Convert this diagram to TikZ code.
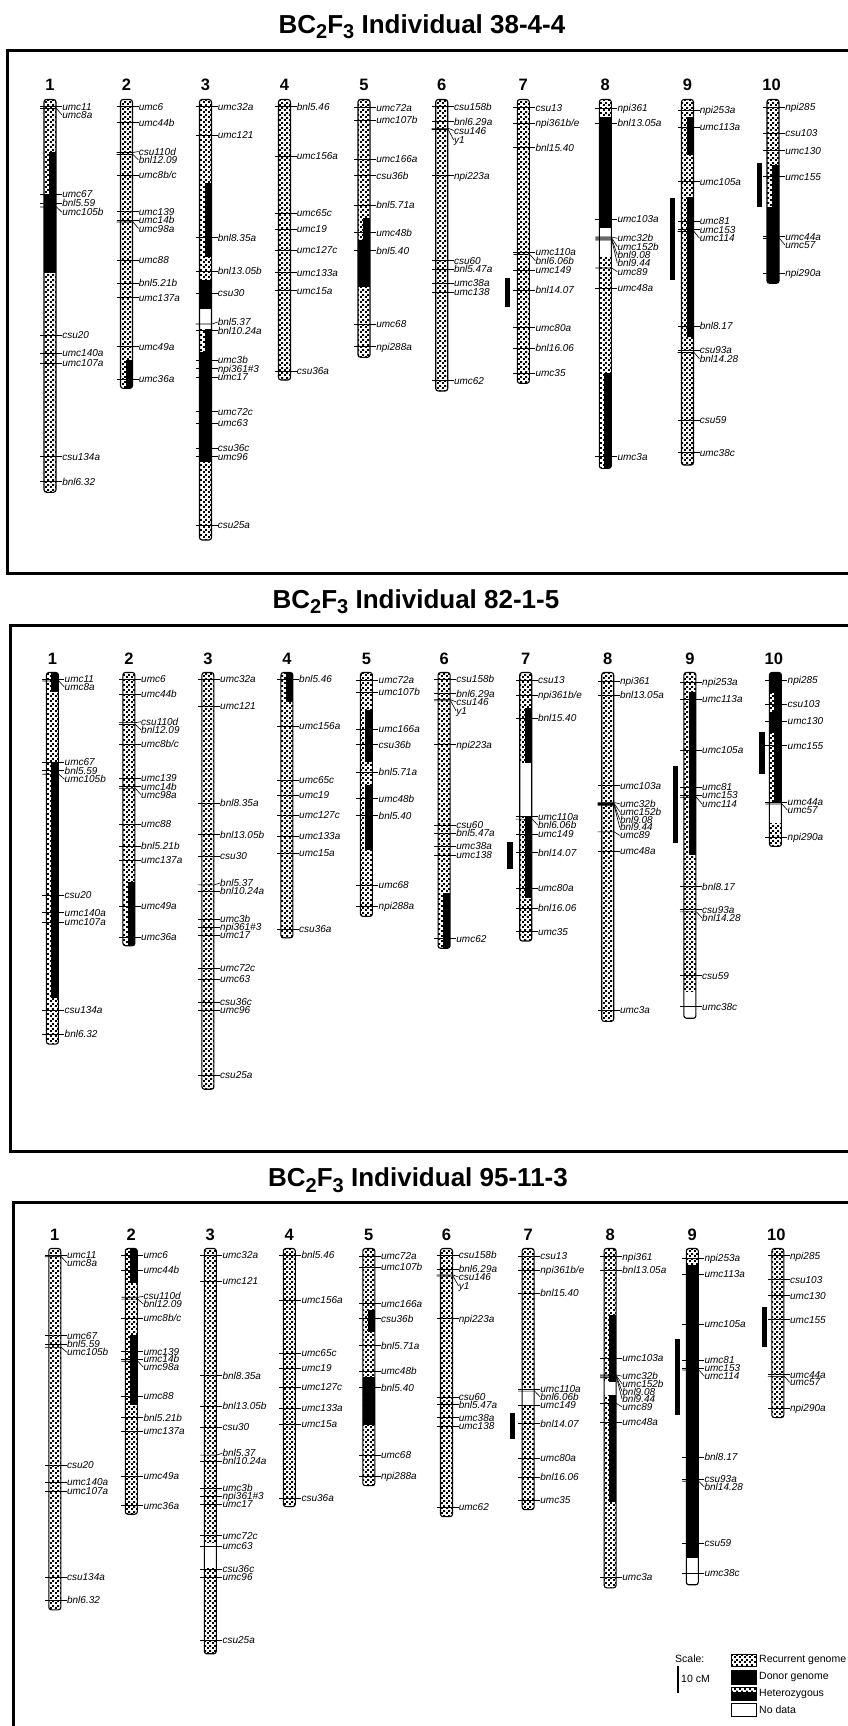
\documentclass[tikz,border=0pt]{standalone}
\usepackage{fontspec}
\setmainfont{Liberation Sans}
\usetikzlibrary{patterns}

\pgfdeclarepatternformonly{recur}{\pgfpointorigin}{\pgfqpoint{4.5bp}{4.5bp}}{\pgfqpoint{4.5bp}{4.5bp}}{%
  \pgfpathrectangle{\pgfqpoint{0.1bp}{0.1bp}}{\pgfqpoint{1.9bp}{1.9bp}}%
  \pgfpathrectangle{\pgfqpoint{2.35bp}{2.35bp}}{\pgfqpoint{1.9bp}{1.9bp}}%
  \pgfusepath{fill}}

\tikzset{
  chromline/.style={line width=1.1bp},
  tickline/.style={line width=0.6bp},
  lbl/.style={anchor=west, inner sep=0pt, text height=7bp, text depth=0bp,
              font=\fontsize{10bp}{10bp}\selectfont\itshape},
  chrnum/.style={inner sep=0pt, font=\fontsize{16.5bp}{16.5bp}\selectfont\bfseries},
  ttl/.style={anchor=base, inner sep=0pt, font=\fontsize{26bp}{26bp}\selectfont\bfseries},
  panelframe/.style={line width=3bp},
  lg/.style={anchor=west, inner sep=0pt, font=\fontsize{10.5bp}{10.5bp}\selectfont},
}

\newcommand\PX[1]{(\Pdx+(#1))}
\newcommand\PY[1]{(\Ptop+\Ps*((#1)-99.5))}
\newcommand\tsub[1]{\raisebox{-5.5bp}{\fontsize{20bp}{20bp}\selectfont #1}}

% chromosome: centre x, bottom y, segments
\newcommand\chromo[3]{%
  \def\cx{#1}%
  \begin{scope}
    \clip[rounded corners=2.5bp] ({\PX{#1-6}},{\PY{99.5}}) rectangle ({\PX{#1+6}},{\PY{#2}});
    \fill[white] ({\PX{#1-6}},{\PY{99.5}}) rectangle ({\PX{#1+6}},{\PY{#2}});
    \fill[pattern=recur] ({\PX{#1-6}},{\PY{99.5}}) rectangle ({\PX{#1+6}},{\PY{#2}});
    #3
  \end{scope}
  \draw[chromline, rounded corners=2.5bp] ({\PX{#1-6}},{\PY{99.5}}) rectangle ({\PX{#1+6}},{\PY{#2}});
}
\newcommand\segD[2]{\fill[black] ({\PX{\cx-7}},{\PY{#1}}) rectangle ({\PX{\cx+7}},{\PY{#2}});}
\newcommand\segH[2]{\fill[black] ({\PX{\cx-1}},{\PY{#1}}) rectangle ({\PX{\cx+7}},{\PY{#2}});}
\newcommand\segN[2]{\fill[white] ({\PX{\cx-7}},{\PY{#1}}) rectangle ({\PX{\cx+7}},{\PY{#2}});}
\newcommand\mk[2]{\draw[tickline] ({\PX{\cx-10}},{\PY{#1}}) -- ({\PX{\cx+12}},{\PY{#1}}) node[lbl]{#2};}
\newcommand\mks[3]{\draw[tickline] ({\PX{\cx-10}},{\PY{#1}}) -- ({\PX{\cx+6.5}},{\PY{#1}}) -- ({\PX{\cx+12}},{\PY{#2}}) node[lbl]{#3};}
\newcommand\qbar[3]{\fill[black] ({\PX{#1-2.6}},{\PY{#2}}) rectangle ({\PX{#1+2.6}},{\PY{#3}});}
\newcommand\cnum[2]{\node[chrnum] at ({\PX{#1}},{\PY{85}}) {#2};}

\newcommand\drawpanel{%
  % chromosome 1
  \chromo{50}{492.3}{\SegA}
  \cnum{50}{1}
  \mk{106.5}{umc11} \mks{108.5}{115}{umc8a} \mk{194.3}{umc67} \mk{203.3}{bnl5.59}
  \mks{207}{212.3}{umc105b} \mk{335}{csu20} \mk{353.3}{umc140a} \mk{363.3}{umc107a}
  \mk{456.7}{csu134a} \mk{481.7}{bnl6.32}
  % chromosome 2
  \chromo{126.5}{388.3}{\SegB}
  \cnum{126.5}{2}
  \mk{106.7}{umc6} \mk{122.7}{umc44b} \mks{152.5}{151.5}{csu110d} \mks{154.5}{160}{bnl12.09}
  \mk{175}{umc8b/c} \mk{211.5}{umc139} \mk{220}{umc14b} \mks{222}{228.5}{umc98a}
  \mk{260}{umc88} \mk{283.3}{bnl5.21b} \mk{297.7}{umc137a} \mk{346.7}{umc49a} \mk{379}{umc36a}
  % chromosome 3
  \chromo{205.5}{540}{\SegC}
  \cnum{205.5}{3}
  \mk{106.7}{umc32a} \mk{135}{umc121} \mk{237.7}{bnl8.35a} \mk{271}{bnl13.05b}
  \mk{293.3}{csu30} \mks{324}{322}{bnl5.37} \mk{330.5}{bnl10.24a} \mk{360}{umc3b}
  \mk{368.5}{npi361\#3} \mk{377}{umc17} \mk{411.7}{umc72c} \mk{423.3}{umc63}
  \mk{448.3}{csu36c} \mk{456.7}{umc96} \mk{525}{csu25a}
  % chromosome 4
  \chromo{284.5}{380}{\SegD}
  \cnum{284.5}{4}
  \mk{106.7}{bnl5.46} \mk{156}{umc156a} \mk{213.3}{umc65c} \mk{229.3}{umc19}
  \mk{250}{umc127c} \mk{272.7}{umc133a} \mk{290.7}{umc15a} \mk{371}{csu36a}
  % chromosome 5
  \chromo{364}{357.3}{\SegE}
  \cnum{364}{5}
  \mk{107.7}{umc72a} \mk{120}{umc107b} \mk{159.3}{umc166a} \mk{175.7}{csu36b}
  \mk{205}{bnl5.71a} \mk{232.7}{umc48b} \mk{250.7}{bnl5.40} \mk{324}{umc68} \mk{346.7}{npi288a}
  % chromosome 6
  \chromo{441.7}{391}{\SegF}
  \cnum{441.7}{6}
  \mk{106.7}{csu158b} \mk{121.7}{bnl6.29a} \mks{128.3}{130.5}{csu146} \mks{129.5}{140}{y1}
  \mk{175.7}{npi223a} \mk{260.7}{csu60} \mk{269.3}{bnl5.47a} \mk{283.3}{umc38a}
  \mk{292.3}{umc138} \mk{380.7}{umc62}
  % chromosome 7
  \chromo{523.3}{383.3}{\SegG}
  \cnum{523.3}{7}
  \mk{107.7}{csu13} \mk{123.3}{npi361b/e} \mk{147.7}{bnl15.40} \mk{252}{umc110a}
  \mks{254.5}{260.7}{bnl6.06b} \mk{270}{umc149} \mk{290}{bnl14.07} \mk{327.7}{umc80a}
  \mk{348.3}{bnl16.06} \mk{373.3}{umc35}
  \qbar{507.5}{278.3}{306.7}
  % chromosome 8
  \chromo{605.3}{468.3}{\SegH}
  \cnum{605.3}{8}
  \mk{108.3}{npi361} \mk{123.3}{bnl13.05a} \mk{219}{umc103a} \mks{237}{238.3}{umc32b}
  \mks{238}{246.7}{umc152b} \mks{239}{255}{bnl9.08} \mks{240}{263.3}{bnl9.44}
  \mks{268}{271.7}{umc89} \mk{288.3}{umc48a} \mk{456.7}{umc3a}
  % chromosome 9
  \chromo{687.5}{465}{\SegI}
  \cnum{687.5}{9}
  \mk{110}{npi253a} \mk{127.3}{umc113a} \mk{181.7}{umc105a} \mk{221}{umc81}
  \mk{229.5}{umc153} \mks{231.5}{238.3}{umc114} \mk{326}{bnl8.17} \mk{350.2}{csu93a}
  \mks{352.5}{358.8}{bnl14.28} \mk{420}{csu59} \mk{452.7}{umc38c}
  \qbar{672.8}{198.3}{280}
  % chromosome 10
  \chromo{773}{283.3}{\SegJ}
  \cnum{771.5}{10}
  \mk{107.3}{npi285} \mk{133.3}{csu103} \mk{150.7}{umc130} \mk{176.7}{umc155}
  \mk{236.7}{umc44a} \mks{238.5}{245}{umc57} \mk{273.3}{npi290a}
  \qbar{759.5}{162.7}{206.7}
}

\begin{document}
\begin{tikzpicture}[x=1bp, y=-1bp]
\useasboundingbox (0,0) rectangle (848,1726);
\clip (0,0) rectangle (848,1726);
\fill[white] (0,0) rectangle (848,1726);

% ---------- titles and frames ----------
\node[ttl] (t1) at (422,33) {BC\tsub{2}F\tsub{3} Individual 38-4-4};
\node[ttl] (t2) at (416,608.3) {BC\tsub{2}F\tsub{3} Individual 82-1-5};
\node[ttl] (t3) at (418,1186.7) {BC\tsub{2}F\tsub{3} Individual 95-11-3};
\draw[panelframe] (7.3,50) rectangle (900,573);
\draw[panelframe] (10,625) rectangle (900,1151);
\draw[panelframe] (13.3,1202.7) rectangle (900,1800);

% ---------- panel 1 : 38-4-4 ----------
\begin{scope}
\def\Pdx{0}\def\Ptop{99.5}\def\Ps{1}
\def\SegA{\segH{151.7}{195}\segD{195}{273.3}}
\def\SegB{\segH{360}{388.3}}
\def\SegC{\segH{183.3}{256.7}\segD{280}{309.3}\segN{309.3}{329.3}\segH{329.3}{351.7}\segD{351.7}{461.7}}
\def\SegD{}
\def\SegE{\segH{218.3}{240}\segD{240}{286.7}}
\def\SegF{}
\def\SegG{}
\def\SegH{\segD{116.7}{228.3}\segN{228.3}{256.7}\segH{373.3}{468.3}}
\def\SegI{\segH{116.7}{155}\segH{196.7}{336.7}}
\def\SegJ{\segH{165}{206.7}\segD{206.7}{283.3}}
\drawpanel
\end{scope}

% ---------- panel 2 : 82-1-5 ----------
\begin{scope}
\def\Pdx{2.4}\def\Ptop{672.5}\def\Ps{0.946}
\def\SegA{\segH{99.5}{119.8}\segH{193.8}{443.9}}
\def\SegB{\segH{320.6}{388.3}}
\def\SegC{}
\def\SegD{\segH{99.5}{130.3}}
\def\SegE{\segH{139.1}{193.8}\segH{218.4}{287.1}}
\def\SegF{\segH{332.9}{391}}
\def\SegG{\segH{137.4}{195.5}\segN{195.5}{252.6}\segH{252.6}{338.2}}
\def\SegH{}
\def\SegI{\segH{119.8}{292.4}\segN{436.9}{465}}
\def\SegJ{\segD{99.5}{121.5}\segH{121.5}{140.9}\segD{140.9}{163.8}\segH{163.8}{236.1}\segN{236.1}{258.9}}
\drawpanel
\end{scope}

% ---------- panel 3 : 95-11-3 ----------
\begin{scope}
\def\Pdx{4.8}\def\Ptop{1248.5}\def\Ps{0.92}
\def\SegA{}
\def\SegB{\segH{99.5}{137.4}\segH{193.6}{269.7}}
\def\SegC{\segN{420}{447.1}}
\def\SegD{}
\def\SegE{\segH{166.4}{189.9}\segD{238.8}{291.4}}
\def\SegF{}
\def\SegG{\segN{251.5}{269.6}}
\def\SegH{\segH{171.8}{244.2}\segN{244.2}{258.7}\segH{258.7}{374.6}}
\def\SegI{\segD{117.4}{436.3}\segN{436.3}{465}}
\def\SegJ{}
\drawpanel
\end{scope}

% ---------- legend ----------
\node[lg] (sc) at (675,1659) {Scale:};
\draw[line width=2bp] (677.7,1666) -- (677.7,1693.3);
\node[lg] (cm) at (681,1678.5) {10 cM};
\fill[white] (731.7,1654.3) rectangle (756,1666);
\draw[line width=0.6bp, pattern=recur] (731.7,1654.3) rectangle (756,1666);
\draw[line width=0.6bp, fill=black] (731.7,1670) rectangle (756,1684);
\fill[black] (731.7,1687.7) rectangle (756,1700);
\fill[white] (731.7,1687.7) rectangle (756,1692);
\fill[pattern=recur] (731.7,1687.7) rectangle (756,1692);
\draw[line width=0.6bp] (731.7,1687.7) rectangle (756,1700);
\draw[line width=0.6bp] (731.7,1703.3) rectangle (756,1716);
\node[lg] (l1) at (759,1660) {Recurrent genome};
\node[lg] (l2) at (759,1677) {Donor genome};
\node[lg] (l3) at (759,1694) {Heterozygous};
\node[lg] (l4) at (759,1710) {No data};
\end{tikzpicture}
\end{document}
